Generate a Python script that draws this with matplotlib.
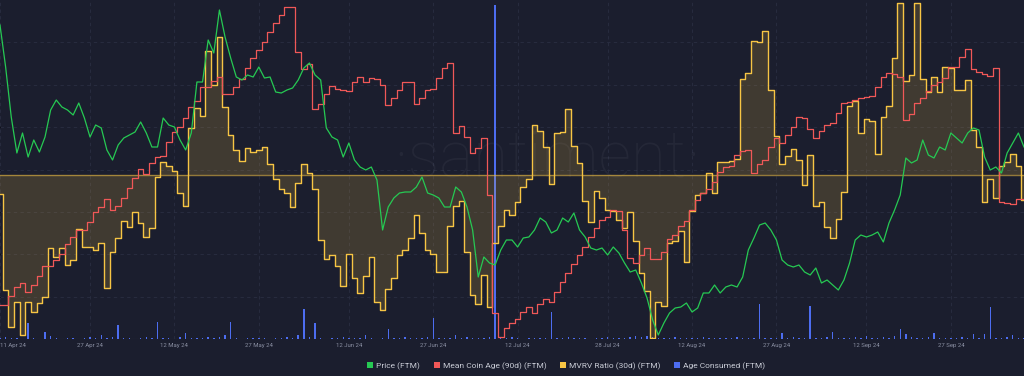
import numpy as np
import pandas as pd
import matplotlib
matplotlib.use('Agg')
import matplotlib.pyplot as plt
import matplotlib.dates as mdates
from matplotlib.patches import Patch

plt.rcParams['font.family'] = ['Roboto', 'DejaVu Sans']

# daily values, starting 11 Apr 2024
price = [0.928, 0.844, 0.744, 0.672, 0.712, 0.664, 0.698, 0.674, 0.704, 0.758,
         0.778, 0.764, 0.758, 0.748, 0.772, 0.742, 0.704, 0.728, 0.722, 0.678,
         0.658, 0.688, 0.702, 0.708, 0.714, 0.734, 0.712, 0.684, 0.684, 0.742,
         0.728, 0.724, 0.698, 0.678, 0.712, 0.814, 0.814, 0.898, 0.872, 0.958,
         0.904, 0.862, 0.824, 0.818, 0.828, 0.824, 0.844, 0.822, 0.824, 0.794,
         0.792, 0.798, 0.802, 0.818, 0.842, 0.852, 0.828, 0.818, 0.722, 0.704,
         0.698, 0.664, 0.692, 0.658, 0.644, 0.638, 0.644, 0.618, 0.518, 0.564,
         0.582, 0.592, 0.594, 0.594, 0.604, 0.624, 0.592, 0.588, 0.582, 0.564,
         0.564, 0.604, 0.594, 0.564, 0.518, 0.424, 0.464, 0.452, 0.448, 0.478,
         0.498, 0.498, 0.484, 0.502, 0.504, 0.518, 0.542, 0.534, 0.512, 0.518,
         0.542, 0.534, 0.552, 0.518, 0.504, 0.482, 0.478, 0.482, 0.468, 0.484,
         0.472, 0.452, 0.434, 0.438, 0.412, 0.382, 0.338, 0.308, 0.332, 0.352,
         0.362, 0.364, 0.372, 0.354, 0.362, 0.392, 0.392, 0.408, 0.392, 0.404,
         0.408, 0.404, 0.424, 0.478, 0.502, 0.528, 0.532, 0.518, 0.498, 0.458,
         0.448, 0.444, 0.448, 0.434, 0.428, 0.442, 0.412, 0.418, 0.408, 0.398,
         0.418, 0.452, 0.498, 0.508, 0.504, 0.508, 0.514, 0.494, 0.532, 0.558,
         0.588, 0.662, 0.652, 0.658, 0.698, 0.668, 0.662, 0.684, 0.678, 0.712,
         0.702, 0.692, 0.712, 0.722, 0.718, 0.664, 0.638, 0.644, 0.632, 0.672,
         0.692, 0.712, 0.684]

coin_age = [29.5, 29.5, 30.4, 31.3, 31.7, 30.8, 31.5, 32.4, 33.4, 33.4,
            34.0, 34.6, 35.6, 36.3, 37.0, 37.0, 37.8, 38.8, 39.3, 40.1,
            39.0, 39.4, 40.2, 41.2, 42.2, 43.1, 42.6, 43.7, 44.3, 44.4,
            45.8, 46.8, 47.3, 48.2, 49.3, 49.9, 51.3, 51.3, 51.9, 52.3,
            50.6, 50.6, 51.3, 52.1, 53.2, 54.2, 55.0, 55.8, 56.8, 57.7,
            58.5, 59.3, 59.3, 54.8, 53.1, 53.6, 49.1, 49.6, 50.6, 51.4,
            51.1, 51.0, 50.9, 51.8, 52.3, 51.8, 52.2, 52.1, 51.5, 49.5,
            50.2, 51.0, 51.8, 51.8, 49.6, 50.2, 51.0, 51.1, 52.2, 53.2,
            53.7, 46.7, 47.4, 46.3, 44.7, 45.2, 46.2, 40.5, 28.7, 26.3,
            27.2, 27.7, 28.1, 28.8, 29.3, 28.7, 29.6, 30.1, 29.8, 30.8,
            31.8, 32.7, 33.6, 34.5, 35.3, 36.3, 37.2, 38.0, 38.3, 39.0,
            38.9, 37.0, 34.2, 33.7, 34.5, 35.2, 34.1, 34.1, 34.8, 36.1,
            36.5, 37.4, 37.9, 39.0, 40.0, 40.7, 41.1, 41.8, 42.8, 43.3,
            43.4, 44.5, 44.9, 45.0, 42.7, 43.6, 44.0, 45.3, 46.2, 45.7,
            46.5, 47.3, 48.3, 48.2, 47.1, 46.2, 46.9, 47.5, 47.7, 48.7,
            49.7, 49.8, 50.0, 50.2, 50.3, 50.4, 51.3, 52.3, 52.7, 52.6,
            52.3, 48.0, 48.6, 49.7, 50.2, 50.9, 51.5, 51.8, 52.2, 53.3,
            53.3, 54.3, 55.1, 53.1, 52.8, 52.6, 52.4, 53.2, 39.8, 39.7,
            39.6, 40.1, 40.1]

mvrv = [-1.9, -11.5, -15.2, -12.7, -16.0, -12.7, -13.7, -12.8, -12.2, -7.3,
        -8.2, -7.3, -9.0, -8.5, -5.4, -7.2, -7.2, -7.5, -6.8, -11.3,
        -7.7, -6.3, -4.6, -5.2, -3.7, -4.8, -6.2, -5.3, -0.2, 1.3,
        0.9, 0.4, -1.8, -3.1, 4.7, 6.7, 5.9, 12.4, 9.0, 13.8,
        6.8, 4.0, 2.5, 1.4, 2.7, 2.3, 2.5, 2.8, 1.1, -0.4,
        -1.4, -1.8, -3.2, -0.8, 1.1, 0.2, -1.4, -6.5, -8.4, -8.0,
        -9.1, -11.1, -7.9, -10.3, -11.8, -10.1, -8.2, -12.7, -13.5, -11.4,
        -10.3, -8.0, -7.5, -6.3, -4.0, -5.8, -7.5, -7.9, -9.7, -9.7,
        -5.1, -3.1, -2.6, -7.7, -12.0, -12.9, -10.0, -13.2, -6.8, -5.1,
        -3.5, -4.0, -2.7, -1.2, -0.4, 5.0, 4.4, 2.8, -0.9, 4.2,
        4.3, 6.6, 2.9, 1.2, -2.6, -4.7, -1.6, -2.3, -3.5, -3.6,
        -4.5, -5.3, -3.7, -6.6, -9.8, -11.6, -16.3, -12.7, -13.1, -6.8,
        -6.6, -5.6, -8.7, -3.6, -2.0, -1.8, 0.2, -1.8, 1.3, 1.3,
        1.4, 1.6, 9.6, 10.2, 13.4, 13.3, 14.4, 8.5, 3.9, 1.1,
        1.9, 2.6, 1.5, -1.0, 2.0, -3.1, -2.7, -5.2, -6.3, -4.4,
        -1.7, 6.9, 7.4, 4.2, 5.6, 5.4, 2.1, 5.8, 6.9, 11.7,
        17.2, 9.4, 10.0, 17.2, 9.6, 8.3, 9.8, 8.3, 10.8, 10.7,
        8.5, 8.5, 9.5, 4.5, 2.8, -2.7, -0.4, -2.3, 0.9, 1.3,
        2.1, 0.9, -2.5]

age_consumed = [0.01, 0.02, 0.01, 0.01, 0.0, 0.16, 0.01, 0.0, 0.07, 0.03,
                0.01, 0.0, 0.01, 0.01, 0.0, 0.01, 0.02, 0.01, 0.04, 0.01,
                0.02, 0.14, 0.01, 0.01, 0.0, 0.01, 0.02, 0.01, 0.17, 0.01,
                0.01, 0.0, 0.02, 0.06, 0.01, 0.01, 0.01, 0.02, 0.01, 0.02,
                0.04, 0.17, 0.01, 0.0, 0.01, 0.01, 0.01, 0.01, 0.0, 0.01,
                0.01, 0.02, 0.01, 0.04, 0.30, 0.02, 0.16, 0.01, 0.0, 0.01,
                0.01, 0.02, 0.01, 0.01, 0.01, 0.04, 0.01, 0.0, 0.01, 0.10,
                0.01, 0.01, 0.02, 0.01, 0.01, 0.01, 0.02, 0.21, 0.01, 0.01,
                0.01, 0.04, 0.01, 0.02, 0.01, 0.01, 0.01, 0.02, 3.34, 0.01,
                0.01, 0.02, 0.01, 0.0, 0.01, 0.01, 0.01, 0.01, 0.27, 0.01,
                0.01, 0.02, 0.01, 0.01, 0.01, 0.0, 0.01, 0.01, 0.02, 0.01,
                0.01, 0.01, 0.02, 0.03, 0.02, 0.03, 0.02, 0.01, 0.01, 0.01,
                0.02, 0.01, 0.01, 0.01, 0.01, 0.02, 0.01, 0.01, 0.01, 0.01,
                0.01, 0.02, 0.01, 0.01, 0.01, 0.35, 0.01, 0.01, 0.01, 0.06,
                0.01, 0.02, 0.01, 0.01, 0.33, 0.01, 0.01, 0.02, 0.07, 0.01,
                0.01, 0.01, 0.02, 0.01, 0.03, 0.01, 0.01, 0.02, 0.01, 0.03,
                0.10, 0.05, 0.02, 0.01, 0.01, 0.02, 0.06, 0.01, 0.01, 0.01,
                0.01, 0.02, 0.01, 0.05, 0.01, 0.05, 0.32, 0.01, 0.01, 0.02,
                0.04, 0.01, 0.01]

tick_dates = ['2024-04-11', '2024-04-27', '2024-05-12', '2024-05-27', '2024-06-12', '2024-06-27',
              '2024-07-12', '2024-07-28', '2024-08-12', '2024-08-27', '2024-09-12', '2024-09-27']
tick_labels = ['11 Apr 24', '27 Apr 24', '12 May 24', '27 May 24', '12 Jun 24', '27 Jun 24',
               '12 Jul 24', '28 Jul 24', '12 Aug 24', '27 Aug 24', '12 Sep 24', '27 Sep 24']

bg = '#1b1e2e'
green = '#26c953'
red = '#f05858'
yellow = '#f7c544'
blue = '#4d6df0'

dates = pd.date_range('2024-04-11', periods=len(price))

fig = plt.figure(figsize=(10.24, 3.76), dpi=100, facecolor=bg)
ax = fig.add_axes([0, 37 / 376, 1, 339 / 376])
ax.set_facecolor(bg)
ax.set_ylim(0, 8)
ax.set_yticks(range(1, 8))
ax.grid(True, color='#2a2e42', linestyle=(0, (4, 4)), linewidth=0.6)
ax.tick_params(axis='y', left=False, labelleft=False)
ax.tick_params(axis='x', length=0, pad=3, labelsize=4.3, labelcolor='#8b90a3')
for s in ax.spines.values():
    s.set_visible(False)
ax.axhline(0, color='#2f3347', lw=0.8)
ax.set_xticks(mdates.date2num(pd.to_datetime(tick_dates)))
ax.set_xticklabels(tick_labels)
ax.get_xticklabels()[0].set_ha('left')
ax.set_xlim(dates[0], dates[-1])

ax.text(0.534, 0.53, '\u00b7santiment\u00b7', transform=ax.transAxes, ha='center', va='center',
        fontsize=46, color='white', alpha=0.045, fontweight='light')


def twin():
    a = ax.twinx()
    a.set_axis_off()
    return a


ax_ac = twin()
ax_ac.bar(dates, age_consumed, width=0.25, color=blue, linewidth=0)
ax_ac.set_ylim(0, 3.39)

ax_mvrv = twin()
ax_mvrv.fill_between(dates, mvrv, 0, step='mid', color=yellow, alpha=0.17, linewidth=0)
ax_mvrv.axhline(0, color=yellow, alpha=0.55, lw=1.0)
ax_mvrv.step(dates, mvrv, where='mid', color=yellow, lw=1.0)
ax_mvrv.set_ylim(-16.4, 17.5)

ax_age = twin()
ax_age.step(dates, coin_age, where='mid', color=red, lw=0.9)
ax_age.set_ylim(26.1, 60)

ax_price = twin()
ax_price.plot(dates, price, color=green, lw=0.9)
ax_price.set_ylim(0.30, 0.978)

ax.set_xlim(dates[0], dates[-1])

handles = [Patch(facecolor=green, label='Price (FTM)'),
           Patch(facecolor=red, label='Mean Coin Age (90d) (FTM)'),
           Patch(facecolor=yellow, label='MVRV Ratio (30d) (FTM)'),
           Patch(facecolor=blue, label='Age Consumed (FTM)')]
fig.legend(handles=handles, loc='center', bbox_to_anchor=(0.553, 0.027), ncol=4, frameon=False,
           fontsize=6, handlelength=0.7, handleheight=0.7, handletextpad=0.4, columnspacing=1.6,
           labelcolor='#c9ccd6')

fig.savefig('out.png', dpi=100, facecolor=bg)
